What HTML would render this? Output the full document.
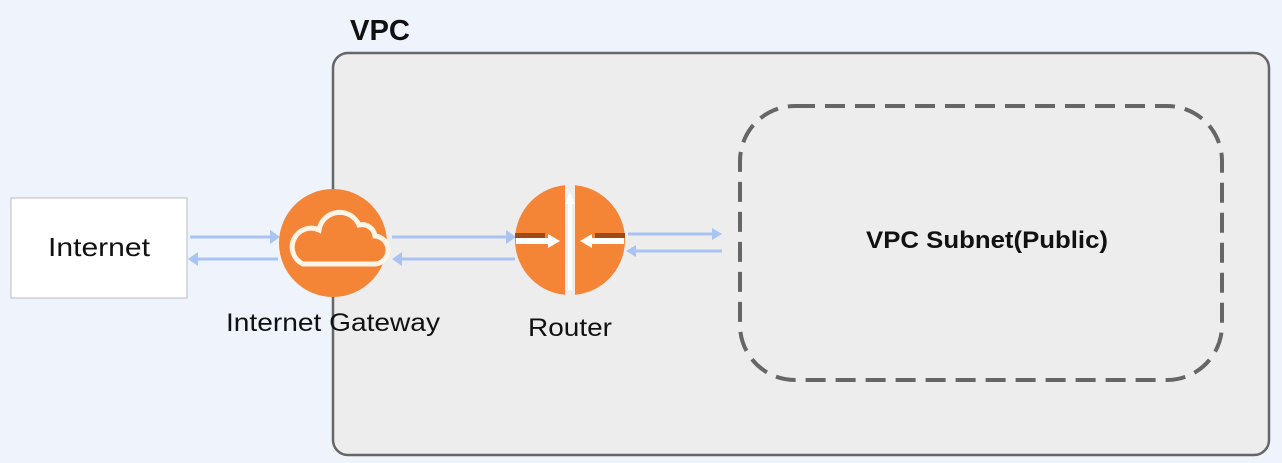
<!DOCTYPE html>
<html><head><style>body{margin:0;background:#eef3fc;}</style></head><body>
<svg width="1282" height="463" xmlns="http://www.w3.org/2000/svg" style="display:block;font-family:'Liberation Sans',sans-serif">
<rect width="1282" height="463" fill="#eef3fc"/>
<text x="350" y="40" font-size="29" fill="#111" font-weight="bold" textLength="60" lengthAdjust="spacingAndGlyphs">VPC</text>
<rect x="333" y="53" width="936" height="402" rx="15" fill="#ededed" stroke="#666" stroke-width="2.5"/>
<rect x="740" y="106" width="482" height="274" rx="55" fill="none" stroke="#666" stroke-width="4" stroke-dasharray="20 10"/>
<text x="866" y="248" font-size="24" font-weight="bold" fill="#111" textLength="242" lengthAdjust="spacingAndGlyphs">VPC Subnet(Public)</text>
<rect x="11" y="198" width="176" height="100" fill="#fff" stroke="#bbb"/>
<text x="48" y="256" font-size="26" fill="#111" textLength="102" lengthAdjust="spacingAndGlyphs">Internet</text>
<g stroke="#a9c3f3" stroke-width="3" fill="#a9c3f3">
<line x1="190" y1="237" x2="272" y2="237"/><polygon points="280,237 270,230 270,244" stroke="none"/>
<line x1="198" y1="259" x2="278" y2="259"/><polygon points="188,259 198,252 198,266" stroke="none"/>
<line x1="392" y1="237" x2="508" y2="237"/><polygon points="516,237 506,230 506,244" stroke="none"/>
<line x1="402" y1="259" x2="515" y2="259"/><polygon points="392,259 402,252 402,266" stroke="none"/>
<line x1="628" y1="234" x2="714" y2="234"/><polygon points="722,234 712,228 712,240" stroke="none"/>
<line x1="636" y1="251" x2="722" y2="251"/><polygon points="626,251 636,245 636,257" stroke="none"/>
</g>
<circle cx="333" cy="243" r="54" fill="#f58536"/>
<path d="M303,264 h70 a14,14 0 0 0 2,-28 a13,13 0 0 0 -16,-11 a21,21 0 0 0 -40,5 a17,17 0 0 0 -16,34 z" fill="none" stroke="#fff4e6" stroke-width="5"/>
<text x="226" y="331" font-size="25" fill="#111" textLength="214" lengthAdjust="spacingAndGlyphs">Internet Gateway</text>
<circle cx="570" cy="240" r="55" fill="#f58536"/>
<rect x="565" y="185" width="10" height="110" fill="#ededed"/>
<rect x="568" y="195" width="4" height="95" fill="#fff"/>
<polygon points="570,192 565,204 575,204" fill="#fff"/>
<rect x="516" y="238" width="34" height="6" fill="#fff"/>
<polygon points="560,241 548,234 548,248" fill="#fff"/>
<rect x="515" y="233" width="30" height="5" fill="#a04a1c"/>
<rect x="590" y="238" width="34" height="6" fill="#fff"/>
<polygon points="580,241 592,234 592,248" fill="#fff"/>
<rect x="595" y="233" width="30" height="5" fill="#a04a1c"/>
<text x="528" y="336" font-size="25" fill="#111" textLength="84" lengthAdjust="spacingAndGlyphs">Router</text>
</svg>
</body></html>
